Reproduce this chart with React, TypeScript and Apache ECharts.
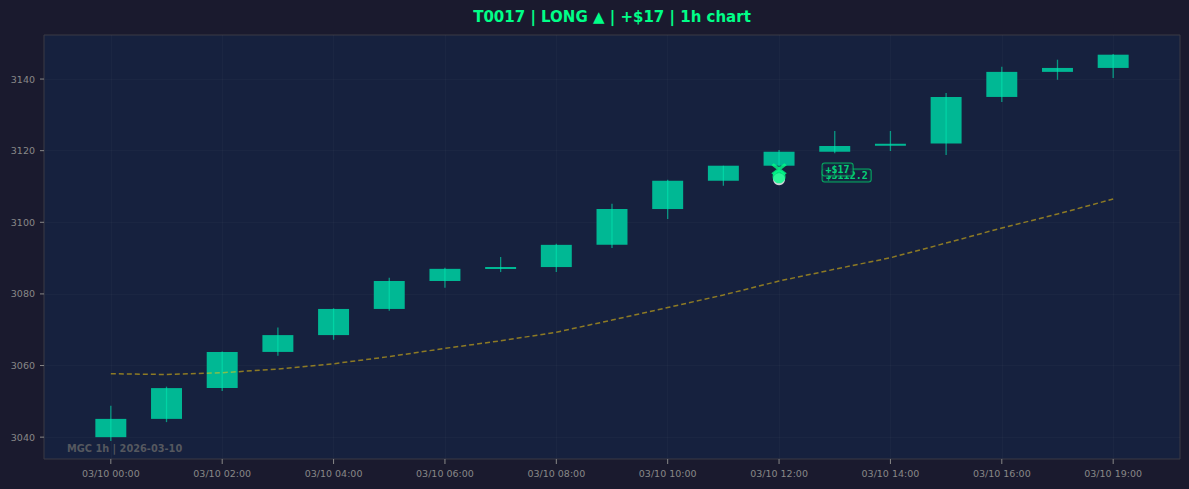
import React, { useEffect, useRef } from "react";
import * as echarts from "echarts";

const times = [
  "03/10 00:00", "03/10 01:00", "03/10 02:00", "03/10 03:00", "03/10 04:00",
  "03/10 05:00", "03/10 06:00", "03/10 07:00", "03/10 08:00", "03/10 09:00",
  "03/10 10:00", "03/10 11:00", "03/10 12:00", "03/10 13:00", "03/10 14:00",
  "03/10 15:00", "03/10 16:00", "03/10 18:00", "03/10 19:00",
];
const opens = [3040.0, 3045.1, 3053.7, 3063.8, 3068.5, 3075.8, 3083.6, 3087.0, 3087.5, 3093.7, 3103.7, 3111.6, 3115.8, 3119.7, 3121.4, 3122.0, 3135.0, 3142.0, 3143.1];
const closes = [3045.1, 3053.7, 3063.8, 3068.5, 3075.8, 3083.6, 3087.0, 3087.5, 3093.7, 3103.7, 3111.6, 3115.8, 3119.7, 3121.3, 3121.9, 3135.0, 3142.0, 3143.1, 3146.8];
const lows = [3038.9, 3044.2, 3052.9, 3062.7, 3067.2, 3075.3, 3081.7, 3086.1, 3086.1, 3092.8, 3100.9, 3110.2, 3113.5, 3119.3, 3119.9, 3118.8, 3133.6, 3139.8, 3140.3];
const highs = [3048.8, 3054.1, 3063.9, 3070.6, 3076.0, 3084.5, 3087.3, 3090.3, 3094.0, 3105.2, 3111.9, 3115.8, 3120.2, 3125.5, 3125.5, 3136.1, 3143.4, 3145.4, 3147.0];
const maValues = [3057.7, 3057.5, 3058.0, 3059.0, 3060.5, 3062.5, 3064.8, 3066.9, 3069.3, 3072.7, 3076.2, 3079.7, 3083.6, 3086.9, 3090.1, 3094.2, 3098.4, 3102.3, 3106.5];

const yTicks = [3040, 3060, 3080, 3100, 3120, 3140];
const xTickIdx = [0, 2, 4, 6, 8, 10, 12, 14, 16, 18];
const xMin = -1.2;
const xMax = 19.2;
const yMin = 3033.9;
const yMax = 3152.3;

const tradeIdx = 12;
const entryPrice = 3112.2;
const exitPrice = 3113.9;
const entryLabel = "$3112.2";
const pnlLabel = "+$17";
const titleText = "T0017 | LONG ▲ | +$17 | 1h chart";
const watermark = "MGC 1h | 2026-03-10";

const labelStyle = {
  show: true,
  position: "right",
  distance: 43,
  offset: [0, -3],
  fontFamily: "DejaVu Sans Mono",
  fontWeight: "bold",
  fontSize: 10,
  color: "#00ff88",
  backgroundColor: "#16213e",
  borderColor: "#00cc6a",
  borderWidth: 1,
  borderRadius: 2,
  padding: [1, 3, 1, 3],
};

export default function App() {
  const ref = useRef<HTMLDivElement>(null);
  useEffect(() => {
    if (!ref.current) return;
    const chart = echarts.init(ref.current, null, { renderer: "svg" });
    const candleData = times.map((_, i) => [i, opens[i], closes[i], lows[i], highs[i]]);
    chart.setOption({
      animation: false,
      backgroundColor: "#1a1a2e",
      grid: {
        left: 44,
        right: 9,
        top: 35,
        bottom: 30,
        show: true,
        backgroundColor: "#16213e",
        borderColor: "#3a3a44",
        borderWidth: 1,
      },
      graphic: [
        {
          type: "text",
          x: 612,
          y: 17,
          style: {
            text: titleText,
            align: "center",
            verticalAlign: "middle",
            fill: "#00ff88",
            fontSize: 15,
            fontWeight: "bold",
            fontFamily: "DejaVu Sans",
          },
          z: 100,
        },
        {
          type: "text",
          x: 67,
          y: 448,
          style: {
            text: watermark,
            align: "left",
            verticalAlign: "middle",
            fill: "#55585f",
            fontSize: 9.8,
            fontWeight: "bold",
            fontFamily: "DejaVu Sans",
          },
          z: 100,
        },
      ],
      xAxis: {
        type: "value",
        min: xMin,
        max: xMax,
        axisLine: { show: false, onZero: false },
        axisTick: { show: false, customValues: xTickIdx },
        axisLabel: {
          customValues: xTickIdx,
          formatter: (v: number) => times[Math.round(v)] ?? "",
          color: "#888",
          fontSize: 9.5,
          fontFamily: "DejaVu Sans",
          margin: 9,
        },
        splitLine: { show: true, lineStyle: { color: "rgba(255,255,255,0.025)", width: 1 } },
      },
      yAxis: {
        type: "value",
        min: yMin,
        max: yMax,
        axisLine: { show: false, onZero: false },
        axisTick: { show: false, customValues: yTicks },
        axisLabel: {
          customValues: yTicks,
          formatter: (v: number) => String(Math.round(v)),
          color: "#888",
          fontSize: 9.5,
          fontFamily: "DejaVu Sans",
          margin: 9,
        },
        splitLine: { show: true, lineStyle: { color: "rgba(255,255,255,0.025)", width: 1 } },
      },
      series: [
        {
          type: "custom",
          silent: true,
          clip: false,
          data: yTicks.map((v) => [xMin, v]),
          z: 1,
          renderItem: (params: any, api: any) => {
            const p = api.coord([api.value(0), api.value(1)]);
            return {
              type: "line",
              shape: { x1: p[0] - 4, y1: p[1], x2: p[0], y2: p[1] },
              style: { stroke: "#888", lineWidth: 1 },
            };
          },
        },
        {
          type: "custom",
          silent: true,
          clip: false,
          data: xTickIdx.map((i) => [i, yMin]),
          z: 1,
          renderItem: (params: any, api: any) => {
            const p = api.coord([api.value(0), api.value(1)]);
            return {
              type: "line",
              shape: { x1: p[0], y1: p[1], x2: p[0], y2: p[1] + 5 },
              style: { stroke: "#888", lineWidth: 1 },
            };
          },
        },
        {
          type: "custom",
          data: candleData,
          encode: { x: 0, y: [1, 2, 3, 4] },
          z: 2,
          renderItem: (params: any, api: any) => {
            const x = api.value(0);
            const o = api.value(1);
            const c = api.value(2);
            const l = api.value(3);
            const h = api.value(4);
            const pO = api.coord([x, o]);
            const pC = api.coord([x, c]);
            const pL = api.coord([x, l]);
            const pH = api.coord([x, h]);
            const w = api.size([1, 0])[0] * 0.556;
            let top = Math.min(pO[1], pC[1]);
            let hgt = Math.abs(pO[1] - pC[1]);
            if (hgt < 2) {
              top = (pO[1] + pC[1]) / 2 - 1;
              hgt = 2;
            }
            return {
              type: "group",
              children: [
                {
                  type: "rect",
                  shape: { x: pO[0] - w / 2, y: top, width: w, height: hgt },
                  style: { fill: "#00b894" },
                },
                {
                  type: "line",
                  shape: { x1: pH[0], y1: pH[1], x2: pL[0], y2: pL[1] },
                  style: { stroke: "#00e6b0", lineWidth: 1.3, opacity: 0.6 },
                },
              ],
            };
          },
        },
        {
          type: "line",
          data: maValues.map((v, i) => [i, v]),
          symbol: "none",
          z: 3,
          lineStyle: { color: "#f1c40f", width: 1.5, type: [5, 3], opacity: 0.55 },
        },
        {
          type: "scatter",
          data: [[tradeIdx, entryPrice - 0.2]],
          symbol: "circle",
          symbolSize: 12,
          z: 4,
          itemStyle: { color: "#ffffff" },
        },
        {
          type: "scatter",
          data: [[tradeIdx, entryPrice + 0.5]],
          symbol: "circle",
          symbolSize: 13,
          z: 5,
          itemStyle: { color: "#00ff88" },
        },
        {
          type: "scatter",
          data: [[tradeIdx, exitPrice + 0.9]],
          symbol: "path://M0,0L10,10M10,0L0,10",
          symbolSize: [13, 10],
          z: 6,
          itemStyle: { color: "none", borderColor: "#00ff88", borderWidth: 3 },
        },
        {
          type: "scatter",
          data: [[tradeIdx, entryPrice]],
          symbolSize: 1,
          z: 7,
          itemStyle: { color: "rgba(0,0,0,0)" },
          label: { ...labelStyle, formatter: entryLabel },
        },
        {
          type: "scatter",
          data: [[tradeIdx, exitPrice]],
          symbolSize: 1,
          z: 8,
          itemStyle: { color: "rgba(0,0,0,0)" },
          label: { ...labelStyle, formatter: pnlLabel },
        },
      ],
    });
    return () => chart.dispose();
  }, []);
  return (
    <div
      ref={ref}
      style={{ position: "fixed", left: 0, top: 0, width: "1189px", height: "489px" }}
    />
  );
}
